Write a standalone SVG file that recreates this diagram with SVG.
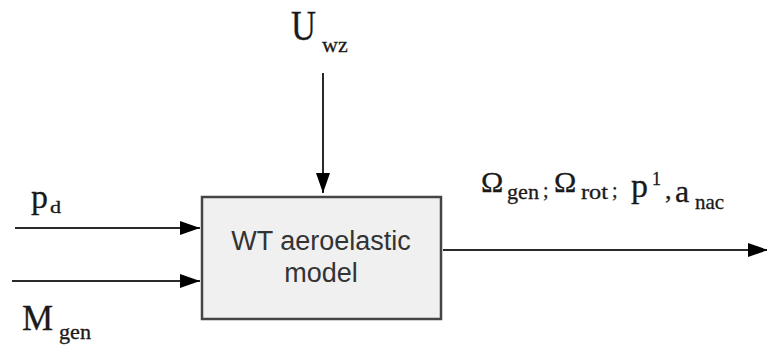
<svg xmlns="http://www.w3.org/2000/svg" width="767" height="345" viewBox="0 0 767 345">
<style>
  .conn { stroke: #2a2a2a; stroke-width: 2; fill: none; marker-end: url(#arr); }
  .box { fill: #f0f0f0; stroke: #454545; stroke-width: 2.5; }
  .boxtxt { font-family: "Liberation Sans", Arial, sans-serif; font-size: 27px; fill: #333; text-anchor: middle; }
  .lbl { font-family: "Liberation Serif", "Times New Roman", serif; fill: #1a1a1a; stroke: #1a1a1a; stroke-width: 0.3; }
</style>
<defs>
  <marker id="arr" markerUnits="userSpaceOnUse" markerWidth="22" markerHeight="16" refX="20" refY="7" orient="auto">
    <path d="M0,0 L20,7 L0,14 Z" fill="#000"/>
  </marker>
</defs>
<g id="connectors">
  <line class="conn" x1="15" y1="228" x2="200" y2="228"/>
  <line class="conn" x1="12" y1="281" x2="200" y2="281"/>
  <line class="conn" x1="323" y1="73" x2="323" y2="193"/>
  <line class="conn" x1="443" y1="250" x2="768" y2="250"/>
</g>
<g id="model">
  <rect class="box" x="202" y="197" width="239" height="122"/>
  <text class="boxtxt" x="321" y="250">WT aeroelastic</text>
  <text class="boxtxt" x="321" y="282">model</text>
</g>
<g id="label-uwz">
  <text class="lbl" x="291" y="40" font-size="42" textLength="25" lengthAdjust="spacingAndGlyphs">U</text>
  <text class="lbl" x="322" y="52" font-size="22">wz</text>
</g>
<g id="label-pd">
  <text class="lbl" x="31" y="208" font-size="34">p</text>
  <text class="lbl" x="50" y="213" font-size="16" textLength="11" lengthAdjust="spacingAndGlyphs">d</text>
</g>
<g id="label-mgen">
  <text class="lbl" x="22" y="330" font-size="35">M</text>
  <text class="lbl" x="59" y="339" font-size="20" textLength="32" lengthAdjust="spacingAndGlyphs">gen</text>
</g>
<g id="label-out">
  <text class="lbl" x="481" y="192" font-size="30">Ω</text>
  <text class="lbl" x="507" y="199" font-size="21" textLength="32" lengthAdjust="spacingAndGlyphs">gen</text>
  <text class="lbl" x="543" y="197" font-size="20">;</text>
  <text class="lbl" x="554" y="192" font-size="30">Ω</text>
  <text class="lbl" x="581" y="199" font-size="21" textLength="27" lengthAdjust="spacingAndGlyphs">rot</text>
  <text class="lbl" x="612" y="197" font-size="20">;</text>
  <text class="lbl" x="631" y="197" font-size="34">p</text>
  <text class="lbl" x="652" y="185" font-size="18">1</text>
  <text class="lbl" x="665" y="199" font-size="26">,</text>
  <text class="lbl" x="675" y="202" font-size="32">a</text>
  <text class="lbl" x="695" y="209" font-size="21">nac</text>
</g>
</svg>
